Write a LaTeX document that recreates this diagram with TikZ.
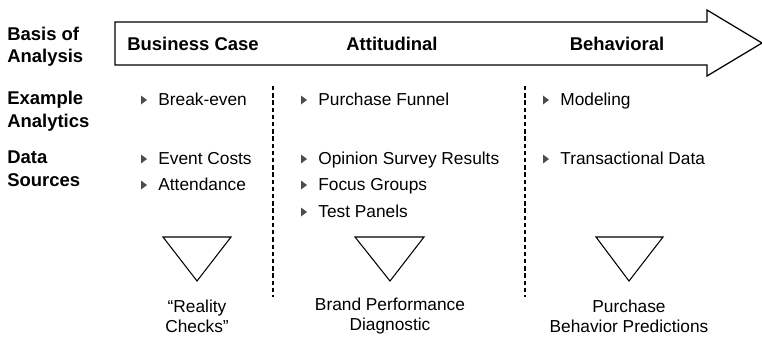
\documentclass[tikz,border=0pt]{standalone}
\usepackage{fontspec}
\setmainfont{Liberation Sans}
\usepackage{tikz}

\tikzset{
	rowlabel/.style={anchor=west, align=left, inner sep=0pt, font=\fontsize{10.5}{12.8}\selectfont\bfseries},
	colhead/.style={inner sep=0pt, font=\fontsize{10.5}{12.8}\selectfont\bfseries},
	entry/.style={anchor=west, inner sep=0pt, text height=1.5ex, text depth=.25ex, font=\fontsize{9.85}{11.4}\selectfont},
	outcome/.style={align=center, inner sep=0pt, font=\fontsize{9.85}{11.4}\selectfont},
	funnel/.style={draw, line width=0.6pt, line join=miter},
	divider/.style={line width=0.65pt, dash pattern=on 2.5pt off 1.6pt}
}
\newcommand{\itemmark}[1]{\fill [black!70] ([xshift=-0.34cm, yshift=0.09cm]#1.west) -- ++(0.12, -0.09) -- ++(-0.12, -0.09) -- cycle;}

\begin{document}
\begin{tikzpicture}
		\useasboundingbox (0, 0) rectangle (15.24, 6.74);
		% big arrow
		\draw [line width=0.7pt] (2.3, 6.3) -- (14.14, 6.3) -- (14.14, 6.54) -- (15.24, 5.88) -- (14.14, 5.22) -- (14.14, 5.44) -- (2.3, 5.44) -- cycle;
		\node [colhead] (bizcase) at (3.86, 5.86) {Business Case};
		\node [colhead] (attitude) at (7.84, 5.86) {Attitudinal};
		\node [colhead] (behavior) at (12.34, 5.86) {Behavioral};
		% row labels
		\node [rowlabel] (basis) at (0.14, 5.81) {Basis of\\Analysis};
		\node [rowlabel] (analytics) at (0.14, 4.52) {Example\\Analytics};
		\node [rowlabel] (sources) at (0.14, 3.37) {Data\\Sources};
		% dividers
		\draw [divider] (5.46, 5.02) -- (5.46, 0.8);
		\draw [divider] (10.5, 5.02) -- (10.5, 0.8);
		% entries
		\node [entry] (breakeven) at (3.16, 4.74) {Break-even};
		\node [entry] (funnelan) at (6.36, 4.74) {Purchase Funnel};
		\node [entry] (modeling) at (11.2, 4.74) {Modeling};
		\node [entry] (costs) at (3.16, 3.56) {Event Costs};
		\node [entry] (attend) at (3.16, 3.04) {Attendance};
		\node [entry] (survey) at (6.36, 3.56) {Opinion Survey Results};
		\node [entry] (focus) at (6.36, 3.04) {Focus Groups};
		\node [entry] (panels) at (6.36, 2.5) {Test Panels};
		\node [entry] (transact) at (11.2, 3.56) {Transactional Data};
		\itemmark{breakeven} \itemmark{funnelan} \itemmark{modeling}
		\itemmark{costs} \itemmark{attend}
		\itemmark{survey} \itemmark{focus} \itemmark{panels}
		\itemmark{transact}
		% funnels and outcomes
		\draw [funnel] (3.26, 2) -- (4.62, 2) -- (3.94, 1.12) -- cycle;
		\draw [funnel] (7.1, 2) -- (8.48, 2) -- (7.8, 1.12) -- cycle;
		\draw [funnel] (11.92, 2) -- (13.26, 2) -- (12.58, 1.12) -- cycle;
		\node [outcome] (reality) at (3.94, 0.42) {“Reality\\Checks”};
		\node [outcome] (brand) at (7.8, 0.42) {Brand Performance\\Diagnostic};
		\node [outcome] (predict) at (12.58, 0.42) {Purchase\\Behavior Predictions};
	\end{tikzpicture}
\end{document}
